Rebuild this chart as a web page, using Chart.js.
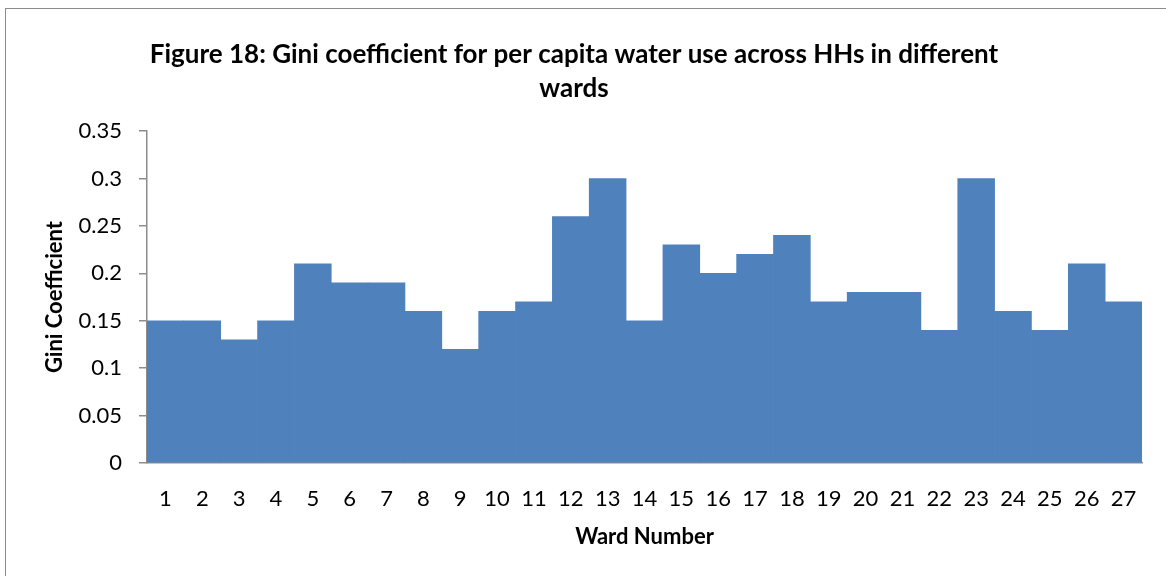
<!DOCTYPE html>
<html>
<head>
<meta charset="utf-8">
<script src="https://cdn.jsdelivr.net/npm/chart.js@4/dist/chart.umd.min.js"></script>
<style>
  html, body { margin:0; padding:0; background:#fff; overflow:hidden; }
  #wrap { position:relative; width:1166px; height:576px; }
  #frame { position:absolute; left:5px; top:8px; width:1200px; height:600px; border:1.5px solid #8c8c8c; box-sizing:border-box; }
  canvas { position:absolute; left:0; top:0; }
</style>
</head>
<body>
<div id="wrap">
  <div id="frame"></div>
  <canvas id="c" width="1166" height="576"></canvas>
</div>
<script>
const wards = ['1','2','3','4','5','6','7','8','9','10','11','12','13','14','15','16','17','18','19','20','21','22','23','24','25','26','27'];
const gini = [0.15,0.15,0.13,0.15,0.21,0.19,0.19,0.16,0.12,0.16,0.17,0.26,0.30,0.15,0.23,0.20,0.22,0.24,0.17,0.18,0.18,0.14,0.30,0.16,0.14,0.21,0.17];
const yTickLabels = ['0','0.05','0.1','0.15','0.2','0.25','0.3','0.35'];
const titleLines = ['Figure 18: Gini coefficient for per capita water use across HHs in different', 'wards'];
const yTitle = 'Gini Coefficient';
const xTitle = 'Ward Number';

const FONT = 'Lato, "Open Sans", sans-serif';

new Chart(document.getElementById('c'), {
  type: 'bar',
  data: {
    labels: wards,
    datasets: [{
      data: gini,
      backgroundColor: '#4f81bd',
      borderWidth: 0,
      barPercentage: 1,
      categoryPercentage: 1
    }]
  },
  options: {
    responsive: false,
    animation: false,
    devicePixelRatio: 1,
    layout: { padding: { left: 6, right: 24, top: 8, bottom: 26 } },
    plugins: {
      legend: { display: false },
      tooltip: { enabled: false },
      title: {
        display: true,
        text: titleLines,
        color: '#000',
        font: { family: FONT, size: 26, weight: 'bold', lineHeight: 1.31 },
        padding: { top: 30, bottom: 25 }
      }
    },
    scales: {
      x: {
        afterFit: (s) => { s.height = 87; },
        grid: { display: false, drawTicks: false },
        border: { display: true, color: '#8c8c8c', width: 1.5 },
        ticks: { color: '#000', font: { family: FONT, size: 22 }, padding: 23, maxRotation: 0, autoSkip: false },
        title: { display: true, text: xTitle, color: '#000', font: { family: FONT, size: 22, weight: 'bold' }, padding: { top: 11, bottom: 0 } }
      },
      y: {
        min: 0, max: 0.35,
        afterFit: (s) => { s.width = 141; },
        grid: { display: true, drawOnChartArea: false, drawTicks: true, tickLength: 8, color: '#8c8c8c', lineWidth: 1.5 },
        border: { display: true, color: '#8c8c8c', width: 1.5 },
        ticks: {
          stepSize: 0.05,
          color: '#000',
          font: { family: FONT, size: 22 },
          padding: 17,
          callback: (v, i) => yTickLabels[i]
        },
        title: { display: true, text: yTitle, color: '#000', font: { family: FONT, size: 22, weight: 'bold' }, padding: { top: 36, bottom: 0 } }
      }
    }
  }
});
</script>
</body>
</html>
